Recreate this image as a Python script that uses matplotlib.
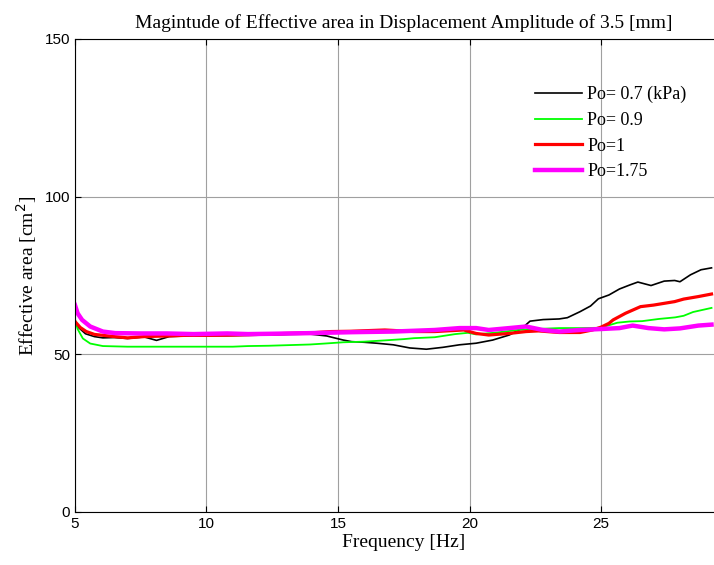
"""
Effective area vs frequency, displacement amplitude 3.5 mm
"""

import matplotlib
matplotlib.use('Agg')
import matplotlib.pyplot as plt

# ---- data ----
f_black = [5.0, 5.2, 5.4, 5.74, 6.06, 6.5, 7.0, 7.63, 8.1, 8.58, 9.21, 10.0, 10.79,
           11.58, 12.37, 13.15, 13.94, 14.57, 15.2, 15.52, 16.0, 16.47, 17.1, 17.73,
           18.36, 18.99, 19.62, 20.25, 20.88, 21.51, 21.99, 22.3, 22.8, 23.41, 23.72,
           24.2, 24.6, 24.9, 25.3, 25.7, 26.1, 26.4, 26.9, 27.4, 27.8, 28.0, 28.4,
           28.8, 29.2]
a_black = [59.5, 58.0, 56.5, 55.6, 55.2, 55.3, 55.0, 55.5, 54.4, 55.6, 55.8, 55.9, 55.9,
           56.0, 56.1, 56.3, 56.4, 55.8, 54.5, 54.0, 53.8, 53.5, 53.0, 52.0,
           51.6, 52.2, 53.0, 53.5, 54.5, 56.1, 58.2, 60.5, 61.0, 61.2, 61.6,
           63.5, 65.3, 67.6, 68.8, 70.7, 72.0, 72.9, 71.8, 73.2, 73.4, 73.0, 75.2,
           76.8, 77.4]

f_green = [5.0, 5.1, 5.3, 5.58, 6.06, 7.0, 8.0, 9.0, 10.0, 11.0, 11.58, 12.37, 13.15,
           13.94, 14.5, 15.2, 16.0, 16.78, 17.5, 17.89, 18.68, 19.46, 19.94, 20.25,
           21.04, 21.83, 22.5, 23.41, 24.2, 24.98, 25.62, 26.09, 26.56, 27.2, 27.82,
           28.14, 28.5, 29.2]
a_green = [61.0, 58.0, 55.0, 53.4, 52.6, 52.4, 52.4, 52.4, 52.4, 52.4, 52.6, 52.7, 52.9,
           53.1, 53.4, 53.8, 54.0, 54.4, 54.8, 55.1, 55.4, 56.4, 56.8, 56.3,
           56.9, 57.7, 58.0, 58.3, 58.3, 58.4, 60.0, 60.4, 60.5, 61.2, 61.7,
           62.2, 63.4, 64.7]

f_red = [5.0, 5.2, 5.43, 5.74, 6.06, 6.5, 7.0, 7.63, 8.5, 9.21, 10.0, 11.0, 12.0, 13.0,
         14.0, 14.73, 15.5, 16.78, 17.89, 18.68, 19.78, 20.25, 20.73, 21.51, 22.15,
         22.62, 23.41, 24.2, 24.67, 25.0, 25.3, 25.46, 25.93, 26.5, 27.0, 27.8, 28.14,
         28.7, 29.2]
a_red = [60.4, 58.5, 57.2, 56.3, 56.0, 55.6, 55.2, 55.6, 55.8, 56.0, 56.0, 56.1, 56.3, 56.6,
         56.8, 57.2, 57.3, 57.7, 57.2, 57.2, 57.7, 56.6, 56.1, 56.6, 57.2,
         57.4, 56.9, 56.9, 57.7, 58.6, 59.8, 60.9, 63.0, 65.1, 65.6, 66.7, 67.5,
         68.3, 69.1]

f_mag = [5.0, 5.1, 5.27, 5.58, 6.06, 6.53, 7.5, 8.5, 9.5, 10.79, 11.58, 12.5, 13.94,
         15.52, 17.1, 18.68, 19.62, 20.25, 20.73, 21.51, 22.15, 22.78, 23.41, 24.2,
         24.98, 25.7, 26.2, 26.8, 27.4, 28.0, 28.7, 29.2]
a_mag = [65.6, 63.0, 60.9, 58.8, 57.2, 56.7, 56.6, 56.6, 56.4, 56.6, 56.4, 56.5, 56.7,
         57.0, 57.2, 57.7, 58.3, 58.3, 57.7, 58.3, 58.8, 57.7, 57.2, 57.7,
         58.0, 58.3, 59.1, 58.3, 57.9, 58.2, 59.1, 59.4]

labels = ['Po= 0.7 (kPa)', 'Po= 0.9', 'Po=1', 'Po=1.75']
x_ticks = [5, 10, 15, 20, 25]
y_ticks = [0, 50, 100, 150]

SERIF = ['Liberation Serif', 'DejaVu Serif']
SANS = ['Liberation Sans', 'DejaVu Sans']

fig = plt.figure(figsize=(7.14, 5.65), dpi=100)
ax = fig.add_axes([0.105, 0.094, 0.921, 0.837])

ax.plot(f_black, a_black, color='black', linewidth=1.2, label=labels[0])
ax.plot(f_green, a_green, color='#00ff00', linewidth=1.3, label=labels[1])
ax.plot(f_red, a_red, color='#ff0000', linewidth=2.3, label=labels[2])
ax.plot(f_mag, a_mag, color='#ff00ff', linewidth=3.2, label=labels[3])

ax.set_xlim(5, 30)
ax.set_ylim(0, 150)
ax.set_xticks(x_ticks)
ax.set_yticks(y_ticks)
ax.grid(True, color='#a0a0a0', linewidth=0.8)
ax.tick_params(direction='in', length=4, top=True, right=True, labelsize=11)
for lab in ax.get_xticklabels() + ax.get_yticklabels():
    lab.set_family(SANS)

ax.set_title('Magintude of Effective area in Displacement Amplitude of 3.5 [mm]',
             family=SERIF, fontsize=14, pad=8)
ax.set_xlabel('Frequency [Hz]', family=SERIF, fontsize=14, labelpad=2)
ax.set_ylabel('Effective area [cm$^2$]', family=SERIF, fontsize=14, labelpad=4)

leg = ax.legend(loc='upper left', bbox_to_anchor=(0.675, 0.935), frameon=False,
                prop={'family': SERIF, 'size': 13}, handlelength=2.6,
                handletextpad=0.3, labelspacing=0.48)

plt.savefig('out.png', dpi=100)
